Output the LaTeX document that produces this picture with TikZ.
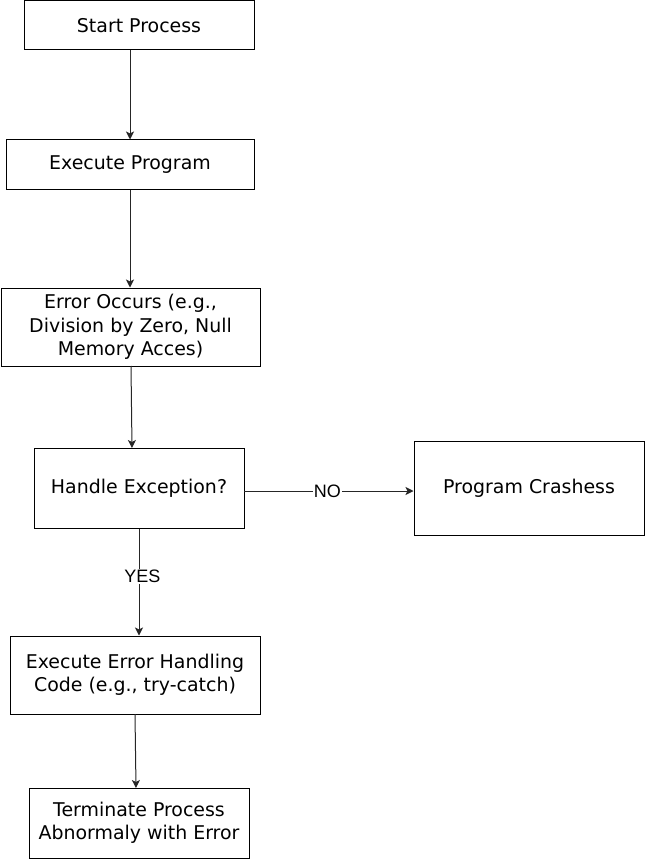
\documentclass[tikz,border=0pt]{standalone}
\usepackage{fontspec}
\setmainfont{DejaVu Sans}
\newfontfamily\labelfont{Liberation Sans}
\usetikzlibrary{arrows.meta}
\begin{document}
\begin{tikzpicture}[x=0.75pt,y=-0.75pt,
  box/.style={draw=black,line width=0.75pt,fill=white,align=center,inner sep=0pt,
    font=\fontsize{14.2pt}{17.5pt}\selectfont},
  conn/.style={draw=black!85,line width=0.75pt,-{Stealth[length=6pt,width=6pt,inset=1.5pt]}},
  lbl/.style={fill=white,inner sep=1pt,font=\labelfont\fontsize{13.5pt}{15pt}\selectfont}]
\useasboundingbox (0,0) rectangle (645,859);
\node[box,minimum width=172.5pt,minimum height=36.75pt] (start) at (139,25.5) {Start Process};
\node[box,minimum width=186pt,minimum height=37.5pt] (exec) at (130,165) {Execute Program};
\node[box,minimum width=194.25pt,minimum height=58.5pt] (err) at (130.5,327) {Error Occurs (e.g.,\\Division by Zero, Null\\Memory Acces)};
\node[box,minimum width=157.5pt,minimum height=60pt] (handle) at (139,488) {Handle Exception?};
\node[box,minimum width=172.5pt,minimum height=70.5pt] (crash) at (529,488) {Program Crashess};
\node[box,minimum width=187.5pt,minimum height=58.5pt] (eh) at (135,675) {Execute Error Handling\\ Code (e.g., try-catch)};
\node[box,minimum width=165pt,minimum height=52.5pt] (term) at (139,823) {Terminate Process\\Abnormaly with Error};
\coordinate (s1) at (130,50);
\draw[conn] (s1) -- (s1 |- exec.north);
\draw[conn] (exec.south) -- (exec.south |- err.north);
\coordinate (e1) at (131,366);
\coordinate (h1) at (132,448);
\draw[conn] (e1) -- (h1);
\coordinate (h2) at (244,491);
\draw[conn] (h2) -- (h2 -| crash.west) node[lbl,midway,xshift=-1pt] (no) {NO};
\draw[conn] (handle.south) -- (handle.south |- eh.north) node[lbl,pos=0.45,xshift=2.5pt] (yes) {YES};
\coordinate (x1) at (135,714);
\coordinate (t1) at (136,788);
\draw[conn] (x1) -- (t1);
\end{tikzpicture}
\end{document}
